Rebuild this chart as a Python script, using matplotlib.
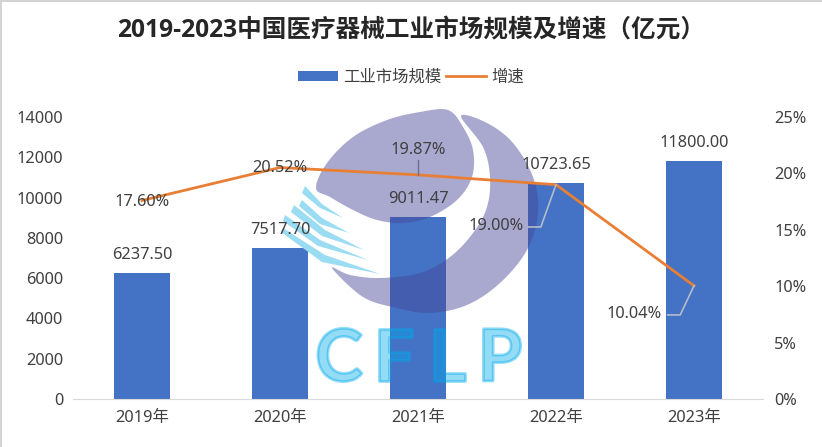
import numpy as np
import matplotlib
matplotlib.use("Agg")
import matplotlib.pyplot as plt
from matplotlib.patches import Polygon, Rectangle
from matplotlib.patheffects import Stroke

plt.rcParams['font.family'] = ['Noto Sans', 'Noto Sans CJK SC', 'DejaVu Sans']

years = ["2019年", "2020年", "2021年", "2022年", "2023年"]
market = [6237.50, 7517.70, 9011.47, 10723.65, 11800.00]
growth = [17.60, 20.52, 19.87, 19.00, 10.04]
left_ticks = [0, 2000, 4000, 6000, 8000, 10000, 12000, 14000]
right_ticks = [0, 5, 10, 15, 20, 25]

BAR = "#4472c4"
LINE = "#e97f35"
TXT = "#404040"
W, H = 822, 447
FS = 11.8

# watermark outlines, in picture pixels
blob = [(316, 188), (327, 163), (353, 137), (387, 120), (420, 112), (448, 110), (463, 127), (473, 150),
        (472, 177), (457, 200), (430, 217), (403, 223), (377, 220), (353, 210), (330, 197)]
crescent = [(461, 116), (487, 123), (513, 143), (533, 177), (538, 213), (527, 250), (500, 283), (467, 305),
            (430, 313), (397, 308), (363, 297), (332, 268), (350, 275), (380, 278), (420, 273), (450, 257),
            (473, 233), (487, 207), (490, 177), (483, 147)]
streaks = [[(305, 186), (322, 204), (343, 218), (320, 208), (302, 193)],
           [(302, 200), (322, 218), (349, 233), (320, 224), (299, 206)],
           [(294, 205), (325, 230), (364, 250), (322, 236), (291, 212)],
           [(285, 215), (320, 240), (368, 260), (318, 246), (283, 221)],
           [(283, 228), (325, 255), (380, 274), (322, 262), (281, 232)]]
logo_letters = ["C", "F", "L", "P"]
logo_x = [339, 394, 447, 500]


def smooth(pts, n=10):
    # closed catmull-rom through the outline points
    p = np.array(pts, dtype=float)
    out = []
    for i in range(len(p)):
        p0, p1, p2, p3 = p[i - 1], p[i], p[(i + 1) % len(p)], p[(i + 2) % len(p)]
        for t in np.linspace(0, 1, n, endpoint=False):
            out.append(0.5 * (2 * p1 + (p2 - p0) * t + (2 * p0 - 5 * p1 + 4 * p2 - p3) * t ** 2
                              + (3 * p1 - p0 - 3 * p2 + p3) * t ** 3))
    return np.array(out)


fig = plt.figure(figsize=(W / 100, H / 100), dpi=100)
ax = fig.add_axes([73 / W, 1 - 399 / H, 690 / W, 282 / H])
wm = fig.add_axes([0, 0, 1, 1], zorder=2)
ax2 = ax.twinx()
ax2.set_zorder(3)
ax2.patch.set_visible(False)

x = np.arange(len(years))
bars = ax.bar(x, market, width=0.405, color=BAR, label="工业市场规模")
ax.set_xlim(-0.5, 4.5)
ax.set_ylim(0, 14000)
ax.set_yticks(left_ticks)
ax.set_xticks(x, years)
ax.tick_params(length=0, labelsize=FS, labelcolor=TXT)
ax.tick_params(axis='y', pad=7)
ax.tick_params(axis='x', pad=8)
for s in ['top', 'left', 'right']:
    ax.spines[s].set_visible(False)
ax.spines['bottom'].set_color("#d9d9d9")

# watermark sits above the bars, below the line
wm.set_xlim(0, W)
wm.set_ylim(H, 0)
wm.axis('off')
wm.patch.set_visible(False)
wm.add_patch(Polygon(smooth(blob), color=(72 / 255, 70 / 255, 153 / 255), alpha=0.47, lw=0))
wm.add_patch(Polygon(smooth(crescent), color=(72 / 255, 70 / 255, 153 / 255), alpha=0.47, lw=0))
for st in streaks:
    wm.add_patch(Polygon(st, color="#9adcf2", lw=0))
for ch, lx in zip(logo_letters, logo_x):
    wm.text(lx, 354, ch, color=(0, 170 / 255, 235 / 255), alpha=0.42, fontsize=52, family="Lato",
            fontweight='bold', ha='center', va='center_baseline',
            path_effects=[Stroke(linewidth=2, foreground=(0, 170 / 255, 235 / 255), alpha=0.42)])
wm.add_patch(Rectangle((0, 0), 2, H, color="#d4d4d4", lw=0))
wm.add_patch(Rectangle((0, 0), W, 2, color="#d4d4d4", lw=0))

line, = ax2.plot(x, growth, color=LINE, lw=2, label="增速")
ax2.set_ylim(0, 25)
ax2.set_yticks(right_ticks, [f"{t}%" for t in right_ticks])
ax2.tick_params(length=0, labelsize=FS, labelcolor=TXT, pad=8)
for s in ax2.spines.values():
    s.set_visible(False)

# value labels
for i, v in enumerate(market):
    ax2.annotate(f"{v:.2f}", (i, v), xycoords=ax.transData, xytext=(0, 13),
                 textcoords='offset points', ha='center', va='center', fontsize=FS, color=TXT)
label_off = [(0, -1), (0, 0), (0, 18), (-43, -30), (-43, -20)]
for i, v in enumerate(growth):
    ax2.annotate(f"{v:.2f}%", (i, v), xytext=label_off[i], textcoords='offset points',
                 ha='center', va='center', fontsize=FS, color=TXT)

# leader lines
ax2.plot([2, 2], [19.87, 21.2], color="#6f6f96", lw=1)
ax2.plot([2.80, 2.89, 3], [15.25, 15.25, 19.0], color="#b4bccb", lw=1.2)
ax2.plot([3.81, 3.90, 4], [7.45, 7.45, 10.04], color="#b4bccb", lw=1.2)

fig.text(411.5 / W, 1 - 31 / H, "2019-2023中国医疗器械工业市场规模及增速（亿元）", fontsize=17.7, fontweight='bold',
         family=['Open Sans', 'Noto Sans CJK SC'], color="#262626", ha='center', va='center')
fig.legend(handles=[bars, line], loc='center', bbox_to_anchor=(411 / W, 1 - 77.5 / H), ncol=2, frameon=False,
           fontsize=FS, labelcolor=TXT, handlelength=2.45, handleheight=0.6, handletextpad=0.3, columnspacing=0.3)

fig.savefig("out.png", dpi=100)
